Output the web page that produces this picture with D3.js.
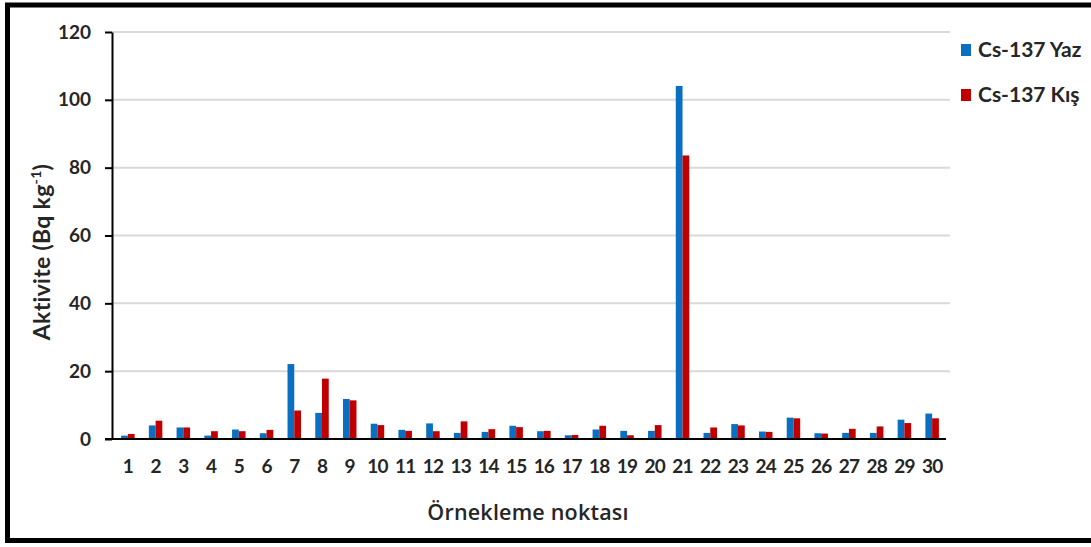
<!DOCTYPE html>
<html><head><meta charset="utf-8">
<script src="https://cdn.jsdelivr.net/npm/d3@7"></script>
<style>
html,body{margin:0;padding:0;background:#fff;}
svg{display:block;}
text{font-family:Lato,"Open Sans",sans-serif;font-weight:700;fill:#262626;}
</style></head>
<body>
<svg id="c" width="1091" height="547"></svg>
<script>
const categories = d3.range(1, 31).map(String);
const yazValues = [1.0,4.0,3.4,1.0,2.8,1.7,22.1,7.7,11.8,4.5,2.7,4.6,1.8,2.1,3.9,2.3,1.1,2.8,2.4,2.4,104.1,1.8,4.4,2.2,6.3,1.7,1.8,1.8,5.7,7.5];
const kisValues = [1.5,5.4,3.4,2.3,2.3,2.7,8.4,17.8,11.4,4.1,2.4,2.3,5.2,2.9,3.5,2.4,1.2,3.9,1.1,4.1,83.6,3.4,4.0,2.1,6.1,1.6,3.0,3.7,4.7,6.1];
const yTicks = [0,20,40,60,80,100,120];
const seriesNames = ["Cs-137 Yaz","Cs-137 Kış"];
const seriesColors = ["#0b6fc1","#c00000"];

const svg = d3.select("#c");
// outer frame
svg.append("rect").attr("x",7.5).attr("y",5).attr("width",1100).attr("height",535.5)
  .attr("fill","none").attr("stroke","#000").attr("stroke-width",5);

const x = d3.scaleBand().domain(categories).range([114,946]).padding(0);
const sub = d3.scaleBand().domain([0,1]).range([0,13.5]).padding(0);
const y = d3.scaleLinear().domain([0,120]).range([439,32]);

// gridlines
svg.append("g").selectAll("line").data(yTicks.filter(d=>d>0)).join("line")
  .attr("x1",112).attr("x2",950).attr("y1",d=>y(d)).attr("y2",d=>y(d))
  .attr("stroke","#d9d9d9").attr("stroke-width",2);

// bars
const data = categories.map((c,i)=>({c, v:[yazValues[i],kisValues[i]]}));
const g = svg.append("g").selectAll("g").data(data).join("g")
  .attr("transform",d=>`translate(${x(d.c)+x.bandwidth()/2-6.75},0)`);
g.selectAll("rect").data(d=>d.v.map((v,k)=>({v,k}))).join("rect")
  .attr("x",d=>sub(d.k)).attr("width",sub.bandwidth())
  .attr("y",d=>y(d.v)).attr("height",d=>y(0)-y(d.v))
  .attr("fill",d=>seriesColors[d.k]);

// y axis
const yAxis = svg.append("g").attr("transform","translate(112,0)")
  .call(d3.axisLeft(y).tickValues(yTicks).tickSize(7).tickPadding(14).tickSizeOuter(0));
yAxis.select(".domain").attr("stroke","#000").attr("stroke-width",2);
yAxis.selectAll(".tick line").attr("stroke","#000").attr("stroke-width",2);
yAxis.selectAll(".tick text").attr("font-size",19).attr("fill","#262626")
  .attr("font-family","Lato,sans-serif").attr("font-weight",700);

// x axis
const xAxis = svg.append("g").attr("transform","translate(0,439)")
  .call(d3.axisBottom(x).tickSize(0).tickPadding(21).tickSizeOuter(0));
xAxis.select(".domain").remove();
svg.append("line").attr("x1",105).attr("x2",946).attr("y1",439).attr("y2",439)
  .attr("stroke","#000").attr("stroke-width",2);
xAxis.selectAll(".tick text").attr("font-size",19).attr("fill","#262626")
  .attr("font-family","Lato,sans-serif").attr("font-weight",700).attr("letter-spacing",-0.8);

// axis titles
svg.append("text").attr("x",528).attr("y",520).attr("text-anchor","middle")
  .attr("font-size",21.5).style("font-family","'Open Sans',sans-serif").style("font-weight",600)
  .attr("letter-spacing",0.2).text("Örnekleme noktası");
const yt = svg.append("text").attr("transform","translate(50,252) rotate(-90)")
  .attr("text-anchor","middle").attr("font-size",23).attr("letter-spacing",0.3);
yt.append("tspan").text("Aktivite (Bq kg");
yt.append("tspan").attr("dy",-9).attr("font-size",14).text("-1");
yt.append("tspan").attr("dy",9).text(")");

// legend
const lg = svg.append("g").selectAll("g").data(seriesNames).join("g")
  .attr("transform",(d,i)=>`translate(961,${50+i*45})`);
lg.append("rect").attr("x",0).attr("y",-6).attr("width",10).attr("height",12)
  .attr("fill",(d,i)=>seriesColors[i]);
lg.append("text").attr("x",17).attr("y",7).attr("font-size",21).text(d=>d);
</script>
</body></html>
